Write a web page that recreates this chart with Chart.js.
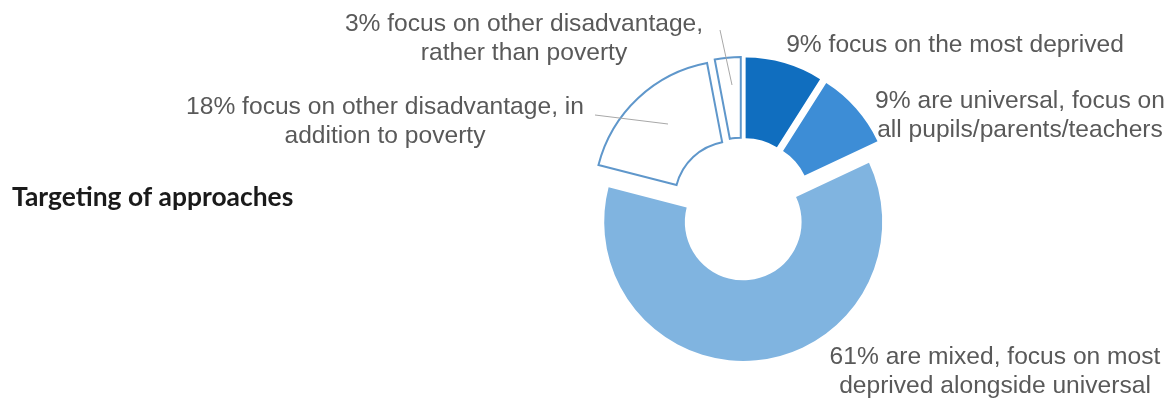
<!DOCTYPE html>
<html>
<head>
<meta charset="utf-8">
<title>Targeting of approaches</title>
<script src="https://cdn.jsdelivr.net/npm/chart.js@4/dist/chart.umd.min.js"></script>
<style>
  html, body { margin: 0; padding: 0; background: #fff; }
  #wrap { width: 1175px; height: 400px; position: relative; }
</style>
</head>
<body>
<div id="wrap"><canvas id="targeting" width="1175" height="400"></canvas></div>
<script>
// share of approaches by targeting (%), clockwise from 12 o'clock
const shares = [9, 9, 61, 18, 3];
const categories = [
  "focus on the most deprived",
  "are universal, focus on all pupils/parents/teachers",
  "are mixed, focus on most deprived alongside universal",
  "focus on other disadvantage, in addition to poverty",
  "focus on other disadvantage, rather than poverty"
];
// how each category text wraps when written next to the ring
const labelLines = [
  ["focus on the most deprived"],
  ["are universal, focus on", "all pupils/parents/teachers"],
  ["are mixed, focus on most", "deprived alongside universal"],
  ["focus on other disadvantage, in", "addition to poverty"],
  ["focus on other disadvantage,", "rather than poverty"]
];

// look
const fills = ["#106ebf", "#3d8dd6", "#80b4e0", "#ffffff", "#ffffff"];
const borders = ["#106ebf", "#3d8dd6", "#80b4e0", "#5f97cb", "#5f97cb"];
const borderWidths = [0, 0, 0, 2, 2];
const EXPLODE = 13;      // px each slice is pulled away from the centre
const LINE_H = 28.5;
// label position: centre x, first baseline y
const labelAt = [[955, 52], [1020, 108], [995, 364], [385, 114], [524, 31]];
// leader lines for the two small white slices: [labelIndex, x1, y1, x2, y2]
const leaders = [[4, 720, 30, 732, 85], [3, 595, 115, 668, 124]];

// pull every arc outwards along its middle angle (like an exploded pie)
const explodePlugin = {
  id: "explode",
  beforeDatasetsDraw(chart) {
    chart.getDatasetMeta(0).data.forEach(arc => {
      if (arc._exploded) return;
      const baseDraw = arc.draw;
      arc.draw = function (ctx) {
        const mid = (this.startAngle + this.endAngle) / 2;
        ctx.save();
        ctx.translate(Math.cos(mid) * EXPLODE, Math.sin(mid) * EXPLODE);
        baseDraw.call(this, ctx);
        ctx.restore();
      };
      arc._exploded = true;
    });
  }
};

// slice captions, leader lines and the heading
const textPlugin = {
  id: "captions",
  afterDraw(chart) {
    const ctx = chart.ctx;
    ctx.save();

    ctx.strokeStyle = "#a8a8a8";
    ctx.lineWidth = 1;
    leaders.forEach(([i, x1, y1, x2, y2]) => {
      ctx.beginPath();
      ctx.moveTo(x1, y1);
      ctx.lineTo(x2, y2);
      ctx.stroke();
    });

    ctx.fillStyle = "#595959";
    ctx.font = "24.6px 'Liberation Sans', Arial, sans-serif";
    ctx.textAlign = "center";
    ctx.textBaseline = "alphabetic";
    labelLines.forEach((lines, i) => {
      const [cx, y0] = labelAt[i];
      lines.forEach((line, j) => {
        const txt = j === 0 ? shares[i] + "% " + line : line;
        ctx.fillText(txt, cx, y0 + j * LINE_H);
      });
    });

    ctx.fillStyle = "#1a1a1a";
    ctx.font = "bold 26.4px Lato, 'Noto Sans', sans-serif";
    ctx.textAlign = "left";
    ctx.fillText("Targeting of approaches", 12, 206);
    ctx.restore();
  }
};

const data = {
  labels: categories,
  datasets: [{
    data: shares,
    backgroundColor: fills,
    borderColor: borders,
    borderWidth: borderWidths,
    borderJoinStyle: "miter"
  }]
};

const config = {
  type: "doughnut",
  data,
  options: {
    responsive: false,
    animation: false,
    rotation: 0,
    radius: 139,
    cutout: "42%",
    layout: { padding: { left: 592, right: 283, top: 59, bottom: 41 } },
    plugins: {
      legend: { display: false },
      tooltip: { enabled: false }
    }
  },
  plugins: [explodePlugin, textPlugin]
};

const canvas = document.getElementById("targeting");
const targetingChart = new Chart(canvas, config);
</script>
</body>
</html>
